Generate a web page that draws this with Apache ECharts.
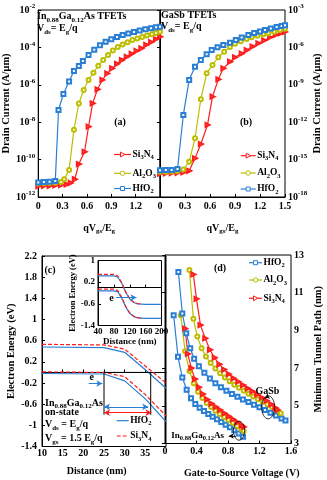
<!DOCTYPE html>
<html>
<head>
<meta charset="UTF-8">
<script src="https://cdn.jsdelivr.net/npm/echarts@6/dist/echarts.min.js"></script>
<style>
  html, body { margin: 0; padding: 0; background: #fff; }
  #chart { width: 327px; height: 480px; }
</style>
</head>
<body>
<div id="chart"></div>
<script>
// (a) In0.88Ga0.12As TFETs: x = qVgs/Eg, y = log10(drain current A/um)
const aHfX = [0, 0.07, 0.14, 0.21, 0.25, 0.31, 0.38, 0.44, 0.5, 0.55, 0.62, 0.69, 0.76, 0.83, 0.9, 0.97, 1.04, 1.11, 1.18, 1.25, 1.32, 1.39, 1.45, 1.5];
const aHfY = [-11.22, -11.2, -11.18, -11.15, -7.35, -6.49, -5.83, -5.26, -5.0, -4.73, -4.4, -4.12, -3.88, -3.7, -3.56, -3.44, -3.34, -3.25, -3.17, -3.1, -3.03, -2.97, -2.92, -2.89];
const aAlX = [0, 0.07, 0.14, 0.21, 0.28, 0.32, 0.38, 0.44, 0.5, 0.56, 0.62, 0.68, 0.74, 0.8, 0.86, 0.92, 0.98, 1.04, 1.1, 1.16, 1.22, 1.28, 1.34, 1.4, 1.45, 1.5];
const aAlY = [-11.27, -11.26, -11.25, -11.23, -11.2, -11.05, -10.55, -8.4, -7.0, -6.28, -5.74, -5.35, -4.98, -4.68, -4.4, -4.16, -3.98, -3.84, -3.72, -3.61, -3.52, -3.44, -3.37, -3.3, -3.23, -3.16];
const aSiX = [0, 0.07, 0.14, 0.21, 0.28, 0.35, 0.4, 0.45, 0.5, 0.57, 0.62, 0.67, 0.73, 0.79, 0.85, 0.91, 0.97, 1.03, 1.09, 1.15, 1.21, 1.27, 1.33, 1.39, 1.45, 1.5];
const aSiY = [-11.42, -11.41, -11.4, -11.38, -11.36, -11.32, -11.25, -11.05, -10.24, -9.58, -8.24, -6.99, -6.24, -5.74, -5.39, -5.12, -4.88, -4.68, -4.5, -4.34, -4.19, -4.05, -3.87, -3.72, -3.56, -3.43];

// (b) GaSb TFETs
const bHfX = [0, 0.07, 0.14, 0.21, 0.28, 0.35, 0.42, 0.49, 0.56, 0.62, 0.69, 0.76, 0.84, 0.91, 0.98, 1.06, 1.13, 1.2, 1.26, 1.33, 1.4, 1.46, 1.5];
const bHfY = [-15.85, -15.84, -15.83, -15.75, -11.42, -8.61, -7.55, -7.01, -6.55, -6.21, -5.98, -5.8, -5.62, -5.4, -5.2, -5.0, -4.85, -4.72, -4.6, -4.48, -4.37, -4.28, -4.22];
const bAlX = [0, 0.07, 0.14, 0.21, 0.28, 0.35, 0.42, 0.49, 0.56, 0.63, 0.7, 0.77, 0.84, 0.9, 0.97, 1.04, 1.1, 1.17, 1.24, 1.3, 1.37, 1.44, 1.5];
const bAlY = [-15.98, -15.97, -15.96, -15.92, -15.8, -15.17, -13.29, -10.16, -8.08, -7.41, -6.79, -6.35, -5.97, -5.7, -5.5, -5.33, -5.19, -5.06, -4.95, -4.86, -4.74, -4.6, -4.5];
const bSiX = [0, 0.07, 0.14, 0.21, 0.28, 0.35, 0.42, 0.49, 0.57, 0.63, 0.7, 0.76, 0.84, 0.9, 0.98, 1.04, 1.11, 1.18, 1.25, 1.32, 1.39, 1.45, 1.5];
const bSiY = [-16.12, -16.1, -16.08, -16.07, -16.03, -15.9, -14.9, -13.75, -12.22, -9.95, -8.56, -7.68, -7.15, -6.8, -6.5, -6.22, -5.93, -5.67, -5.43, -5.2, -5.0, -4.85, -4.76];

// (c) band diagram, distance (nm) vs electron energy (eV)
const cDist = [10, 25, 30, 35, 40];
const cEcHf = [0.48, 0.47, 0.38, 0.05, -0.3];
const cEvHf = [-0.02, -0.03, -0.16, -0.5, -0.93];
const cEcSi = [0.53, 0.52, 0.44, 0.12, -0.2];
const cEvSi = [0.01, 0.0, -0.08, -0.42, -0.82];
const cBoxX = [25, 25, 36.3, 36.3];
const cBoxY = [-0.8, 0, 0, -0.8];
// inset of (c)
const insDistHf = [40, 80, 90, 100, 110, 120, 130, 140, 160, 200];
const insEcHf = [0.43, 0.43, 0.38, 0.15, -0.18, -0.42, -0.55, -0.6, -0.62, -0.62];
const insEvHf = [-0.12, -0.12, -0.16, -0.4, -0.72, -0.95, -1.07, -1.12, -1.14, -1.14];
const insDistSi = [40, 80, 90, 100, 110, 120, 130, 140, 150];
const insEcSi = [0.49, 0.49, 0.43, 0.18, -0.16, -0.41, -0.54, -0.59, -0.6];
const insEvSi = [-0.06, -0.06, -0.11, -0.37, -0.7, -0.94, -1.06, -1.11, -1.12];

// (d) gate-to-source voltage (V) vs minimum tunnel path (nm)
const dHfInX = [0.11, 0.165, 0.22, 0.275, 0.33, 0.385, 0.44, 0.495, 0.55, 0.605, 0.66, 0.715, 0.77, 0.825, 0.88, 0.935, 0.99];
const dHfInY = [9.8, 7.6, 6.5, 5.85, 5.4, 5.1, 4.9, 4.72, 4.56, 4.42, 4.28, 4.14, 4.0, 3.86, 3.7, 3.53, 3.36];
const dAlInX = [0.2, 0.255, 0.31, 0.365, 0.42, 0.475, 0.53, 0.585, 0.64, 0.695, 0.75, 0.805, 0.86, 0.915, 0.97, 1.0];
const dAlInY = [9.8, 7.9, 6.85, 6.2, 5.75, 5.42, 5.15, 4.93, 4.74, 4.57, 4.41, 4.26, 4.1, 3.93, 3.76, 3.66];
const dSiInX = [0.255, 0.29, 0.335, 0.38, 0.43, 0.48, 0.535, 0.59, 0.645, 0.7, 0.755, 0.81, 0.865, 0.92, 0.975, 1.0];
const dSiInY = [9.1, 7.75, 7.0, 6.42, 5.98, 5.62, 5.34, 5.12, 4.94, 4.78, 4.6, 4.44, 4.28, 4.12, 3.96, 3.88];
const dHfSbX = [0.17, 0.22, 0.27, 0.32, 0.37, 0.43, 0.5, 0.57, 0.64, 0.71, 0.78, 0.85, 0.92, 0.99, 1.06, 1.13, 1.2, 1.27, 1.34, 1.41, 1.48, 1.53];
const dHfSbY = [12.1, 9.9, 8.85, 8.05, 7.5, 7.1, 6.75, 6.45, 6.2, 5.98, 5.8, 5.63, 5.48, 5.34, 5.2, 5.06, 4.92, 4.78, 4.63, 4.48, 4.33, 4.22];
const dAlSbX = [0.31, 0.36, 0.41, 0.465, 0.52, 0.58, 0.64, 0.7, 0.76, 0.82, 0.88, 0.94, 1.0, 1.06, 1.12, 1.18, 1.24, 1.3, 1.36, 1.42, 1.47];
const dAlSbY = [12.2, 9.62, 8.67, 8.05, 7.62, 7.27, 6.98, 6.73, 6.5, 6.3, 6.12, 5.96, 5.8, 5.64, 5.5, 5.35, 5.22, 5.08, 4.94, 4.78, 4.6];
const dSiSbX = [0.36, 0.4, 0.45, 0.51, 0.57, 0.63, 0.69, 0.75, 0.81, 0.87, 0.93, 0.99, 1.05, 1.11, 1.17, 1.23, 1.29, 1.35, 1.4, 1.43];
const dSiSbY = [11.97, 10.67, 9.28, 8.58, 7.97, 7.55, 7.2, 6.92, 6.68, 6.46, 6.28, 6.1, 5.93, 5.77, 5.6, 5.44, 5.27, 5.08, 4.9, 4.78];

const F = 'Liberation Serif';
const BLUE = '#2a7fd4', YEL = '#bdbd00', RED = '#ff1c1c';
const R = {
    t: { fontFamily: F, fontWeight: 'bold', fontSize: 10, lineHeight: 14, color: '#000' },
    s: { fontFamily: F, fontWeight: 'bold', fontSize: 7, verticalAlign: 'bottom', color: '#000' },
    p: { fontFamily: F, fontWeight: 'bold', fontSize: 7, verticalAlign: 'top', color: '#000' },
    l: { fontFamily: F, fontWeight: 'bold', fontSize: 9.5, lineHeight: 13, color: '#000' },
    ls: { fontFamily: F, fontWeight: 'bold', fontSize: 6.5, verticalAlign: 'bottom', color: '#000' },
    m: { fontFamily: F, fontWeight: 'bold', fontSize: 9, lineHeight: 12, color: '#000' },
    ms: { fontFamily: F, fontWeight: 'bold', fontSize: 6.5, verticalAlign: 'bottom', color: '#000' }
};
const LBL = {
    HfO2: '{l|HfO}{ls|2}',
    Al2O3: '{l|Al}{ls|2}{l|O}{ls|3}',
    Si3N4: '{l|Si}{ls|3}{l|N}{ls|4}'
};
const num = v => String(Math.round(v * 100) / 100);

function axis(gi, o) {
    return Object.assign({
        type: 'value', gridIndex: gi,
        axisLine: { show: true, lineStyle: { color: '#000', width: 1 } },
        axisTick: { show: true, inside: true, length: 3, lineStyle: { color: '#000' } },
        splitLine: { show: false },
        axisLabel: { color: '#000', fontFamily: F, fontWeight: 'bold', fontSize: 10, margin: 3, rich: R, formatter: num },
        nameLocation: 'middle',
        nameTextStyle: { color: '#000', fontFamily: F, fontWeight: 'bold', fontSize: 10.5, rich: R }
    }, o);
}
const lab = (gi, o) => Object.assign({}, axis(gi).axisLabel, o);

function line(name, xs, ys, gi, color, sym, extra) {
    return Object.assign({
        name: name, type: 'line', xAxisIndex: gi, yAxisIndex: gi,
        data: xs.map((x, i) => [x, ys[i]]),
        symbol: sym, symbolSize: 4, symbolRotate: sym === 'emptyTriangle' ? -90 : 0,
        lineStyle: { color: color, width: 1.2 },
        itemStyle: { color: color, borderColor: color, borderWidth: 1 }
    }, extra || {});
}

const expLabel = v => '{t|10}{p|' + Math.round(v) + '}';
const arrowLine = (color) => ({
    silent: true, symbol: ['arrow', 'arrow'], symbolSize: [5, 6],
    label: { show: false },
    lineStyle: { color: color, type: 'solid', width: 1 }
});

const chart = echarts.init(document.getElementById('chart'));

const option = {
    animation: false,
    backgroundColor: '#fff',
    grid: [
        { left: 36, top: 10, width: 124, height: 187, show: true, borderColor: '#000', borderWidth: 1 },
        { left: 160, top: 10, width: 125, height: 187, show: true, borderColor: '#000', borderWidth: 1 },
        { left: 42, top: 256, width: 124, height: 190.5, show: true, borderColor: '#000', borderWidth: 1 },
        { left: 98, top: 260.5, width: 63.5, height: 65, show: true, borderColor: '#000', borderWidth: 1, backgroundColor: '#fff' },
        { left: 165, top: 255, width: 126, height: 188.5, show: true, borderColor: '#000', borderWidth: 1 }
    ],
    xAxis: [
        axis(0, { min: 0, max: 1.5, interval: 0.3, name: '{t|qV}{s|gs}{t|/E}{s|g}', nameGap: 24,
            axisLabel: lab(0, { showMaxLabel: false, margin: 4 }) }),
        axis(1, { min: 0, max: 1.5, interval: 0.3, name: '{t|qV}{s|gs}{t|/E}{s|g}', nameGap: 24,
            axisLabel: lab(1, { margin: 4 }) }),
        axis(2, { min: 10, max: 40, interval: 5, axisLabel: lab(2, { showMaxLabel: false, margin: 2 }) }),
        axis(3, { min: 40, max: 200, interval: 40, name: 'Distance (nm)', nameGap: 11,
            nameTextStyle: { color: '#000', fontFamily: F, fontWeight: 'bold', fontSize: 9 },
            axisLabel: lab(3, { fontSize: 9, margin: 2 }) }),
        axis(4, { min: 0, max: 1.6, interval: 0.4, axisLabel: lab(4, { margin: 3 }) })
    ],
    yAxis: [
        axis(0, { min: -12, max: -2, interval: 2, name: 'Drain Current (A/\u03bcm)', nameGap: 22, nameRotate: 90,
            axisLabel: lab(0, { formatter: expLabel }) }),
        axis(1, { min: -18, max: -3, interval: 3, position: 'right', name: 'Drain Current (A/\u03bcm)', nameGap: 27, nameRotate: 90,
            axisLabel: lab(1, { formatter: expLabel }) }),
        axis(2, { min: -1.4, max: 2.2, interval: 0.4, name: 'Electron Energy (eV)', nameGap: 25, nameRotate: 90,
            axisLabel: lab(2, { margin: 5 }) }),
        axis(3, { min: -1.4, max: 1, interval: 0.8, name: 'Electron Energy (eV)', nameGap: 14, nameRotate: 90,
            nameTextStyle: { color: '#000', fontFamily: F, fontWeight: 'bold', fontSize: 8.5 },
            axisLabel: lab(3, { fontSize: 9, margin: 3 }) }),
        axis(4, { min: 3, max: 13, interval: 2, position: 'right', name: 'Minimum Tunnel Path (nm)', nameGap: 22, nameRotate: 90,
            axisLabel: lab(4, { margin: 3 }) })
    ],
    series: [
        line('a-Si3N4', aSiX, aSiY, 0, RED, 'emptyTriangle'),
        line('a-Al2O3', aAlX, aAlY, 0, YEL, 'emptyCircle'),
        line('a-HfO2', aHfX, aHfY, 0, BLUE, 'emptyRect'),
        line('b-Si3N4', bSiX, bSiY, 1, RED, 'emptyTriangle'),
        line('b-Al2O3', bAlX, bAlY, 1, YEL, 'emptyCircle'),
        line('b-HfO2', bHfX, bHfY, 1, BLUE, 'emptyRect'),
        line('c-HfO2', cDist, cEcHf, 2, BLUE, 'none'),
        line('c-HfO2', cDist, cEvHf, 2, BLUE, 'none'),
        line('c-Si3N4', cDist, cEcSi, 2, RED, 'none', { lineStyle: { color: RED, width: 1.2, type: [4, 2] } }),
        line('c-Si3N4', cDist, cEvSi, 2, RED, 'none', { lineStyle: { color: RED, width: 1.2, type: [4, 2] } }),
        line('c-box', cBoxX, cBoxY, 2, '#000', 'none', {
            lineStyle: { color: '#000', width: 1 },
            markLine: Object.assign(arrowLine(BLUE), {
                data: [
                    [{ coord: [25, -0.65] }, { coord: [35.7, -0.65] }],
                    [{ coord: [21.3, -0.21], symbol: 'none' }, { coord: [24.6, -0.21] }]
                ]
            })
        }),
        line('c-box2', [25, 36.5], [-0.76, -0.76], 2, RED, 'none', {
            lineStyle: { width: 0, opacity: 0 },
            markLine: Object.assign(arrowLine(RED), {
                data: [[{ coord: [25, -0.76] }, { coord: [36.5, -0.76] }]]
            })
        }),
        line('i-HfO2', insDistHf, insEcHf, 3, BLUE, 'none'),
        line('i-HfO2', insDistHf, insEvHf, 3, BLUE, 'none'),
        line('i-Si3N4', insDistSi, insEcSi, 3, RED, 'none', { lineStyle: { color: RED, width: 1.2, type: [4, 2] } }),
        line('i-Si3N4', insDistSi, insEvSi, 3, RED, 'none', { lineStyle: { color: RED, width: 1.2, type: [4, 2] } }),
        line('i-e', [86, 137], [-0.37, -0.37], 3, BLUE, 'none', {
            lineStyle: { width: 0, opacity: 0 },
            markLine: Object.assign(arrowLine(BLUE), {
                data: [[{ coord: [86, -0.37], symbol: 'none' }, { coord: [137, -0.37] }]]
            })
        }),
        line('d-HfO2', dHfInX, dHfInY, 4, BLUE, 'emptyRect'),
        line('d-Al2O3', dAlInX, dAlInY, 4, YEL, 'emptyCircle'),
        line('d-Si3N4', dSiInX, dSiInY, 4, RED, 'emptyTriangle'),
        line('d-HfO2', dHfSbX, dHfSbY, 4, BLUE, 'emptyRect'),
        line('d-Al2O3', dAlSbX, dAlSbY, 4, YEL, 'emptyCircle'),
        line('d-Si3N4', dSiSbX, dSiSbY, 4, RED, 'emptyTriangle', {
            markLine: {
                silent: true, symbol: ['none', 'arrow'], symbolSize: [4, 5],
                label: { show: false },
                lineStyle: { color: '#000', type: 'solid', width: 0.8 },
                data: [
                    [{ coord: [1.3, 5.45] }, { coord: [1.3, 5.62] }],
                    [{ coord: [0.9, 3.4] }, { coord: [0.81, 3.4] }]
                ]
            }
        })
    ]
};
chart.setOption(option);

// text annotations, legend keys and ellipses
const px = (gi, x, y) => chart.convertToPixel({ gridIndex: gi }, [x, y]);
function txt(x, y, text, align) {
    return {
        type: 'text', x: x, y: y, z: 100,
        style: { text: text, rich: R, fill: '#000', fontFamily: F, fontWeight: 'bold', fontSize: 10,
            align: align || 'left', verticalAlign: 'middle' }
    };
}
function key(x, y, w, color, sym, label, dashed) {
    const cx = x + w / 2;
    const els = [{
        type: 'line', z: 100, shape: { x1: x, y1: y, x2: x + w, y2: y },
        style: { stroke: color, lineWidth: 1.2, lineDash: dashed ? [4, 2] : null }
    }];
    const st = { fill: '#fff', stroke: color, lineWidth: 1 };
    if (sym === 'rect') els.push({ type: 'rect', z: 101, shape: { x: cx - 2, y: y - 2, width: 4, height: 4 }, style: st });
    if (sym === 'circle') els.push({ type: 'circle', z: 101, shape: { cx: cx, cy: y, r: 2.2 }, style: st });
    if (sym === 'tri') els.push({ type: 'polygon', z: 101, shape: { points: [[cx - 2, y - 2.4], [cx - 2, y + 2.4], [cx + 2.4, y]] }, style: st });
    els.push(txt(x + w + 1.5, y, LBL[label]));
    return els;
}
const eMain = px(2, 22, -0.09);
const eIns = px(3, 74, -0.4);
const gasbE = px(4, 1.31, 4.92);
const ingaE = px(4, 0.94, 3.68);
const gasbT = px(4, 1.3, 5.78);
const ingaT = px(4, 0.08, 3.4);

chart.setOption({
    graphic: [].concat(
        key(114, 154.5, 17, RED, 'tri', 'Si3N4'),
        key(114, 173.3, 17, YEL, 'circle', 'Al2O3'),
        key(114, 188.5, 17, BLUE, 'rect', 'HfO2'),
        key(240.7, 155.7, 15, RED, 'tri', 'Si3N4'),
        key(240.7, 173, 15, YEL, 'circle', 'Al2O3'),
        key(240.7, 189, 15, BLUE, 'rect', 'HfO2'),
        key(116.7, 420.7, 12, BLUE, null, 'HfO2'),
        key(116.7, 436, 12, RED, null, 'Si3N4', true),
        key(249, 262.7, 13, BLUE, 'rect', 'HfO2'),
        key(249, 280, 13, YEL, 'circle', 'Al2O3'),
        key(249, 298.3, 13, RED, 'tri', 'Si3N4'),
        [
            txt(37, 16.7, '{t|In}{s|0.88}{t|Ga}{s|0.12}{t|As TFETs}'),
            txt(37, 28.3, '{t|V}{s|ds}{t|= E}{s|g}{t|/q}'),
            txt(161, 15.5, '{t|GaSb TFETs}'),
            txt(161, 26.5, '{t|V}{s|ds}{t|= E}{s|g}{t|/q}'),
            txt(120, 122.7, '{t|(a)}', 'center'),
            txt(246, 122.7, '{t|(b)}', 'center'),
            txt(50, 270, '{t|(c)}', 'center'),
            txt(45, 403, '{t|In}{s|0.88}{t|Ga}{s|0.12}{t|As}'),
            txt(45, 412.5, '{t|on-state}'),
            txt(45, 424.5, '{t|V}{s|ds}{t| = E}{s|g}{t|/q}'),
            txt(45, 438.5, '{t|V}{s|gs}{t| = 1.5 E}{s|g}{t|/q}'),
            txt(eMain[0], eMain[1], '{t|e}', 'center'),
            txt(eIns[0], eIns[1], '{t|e}', 'center'),
            txt(96.7, 471.5, '{t|Distance (nm)}', 'center'),
            txt(220, 268, '{t|(d)}', 'center'),
            txt(gasbT[0], gasbT[1], '{t|GaSb}', 'center'),
            txt(ingaT[0], ingaT[1], '{m|In}{ms|0.88}{m|Ga}{ms|0.12}{m|As}'),
            txt(241.7, 473, '{t|Gate-to-Source Voltage (V)}', 'center'),
            { type: 'ellipse', z: 100, shape: { cx: gasbE[0], cy: gasbE[1], rx: 6.5, ry: 11.5 },
              style: { fill: 'none', stroke: '#000', lineWidth: 0.8 } },
            { type: 'ellipse', z: 100, shape: { cx: ingaE[0], cy: ingaE[1], rx: 5.5, ry: 9.5 },
              style: { fill: 'none', stroke: '#000', lineWidth: 0.8 } }
        ]
    )
});
</script>
</body>
</html>
